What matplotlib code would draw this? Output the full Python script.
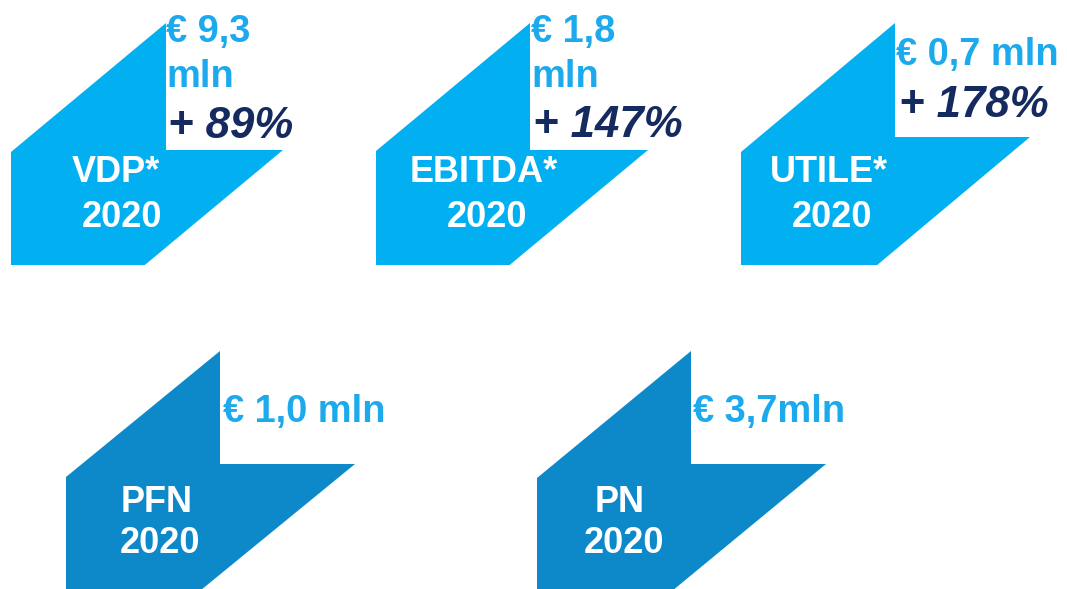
import matplotlib
matplotlib.use("Agg")
import matplotlib.pyplot as plt
from matplotlib.patches import Polygon

# ---- data ----
labels = ["VDP*", "EBITDA*", "UTILE*", "PFN", "PN"]
years = ["2020", "2020", "2020", "2020", "2020"]
value_lines = [["€ 9,3", "mln"], ["€ 1,8", "mln"], ["€ 0,7 mln"], ["€ 1,0 mln"], ["€ 3,7mln"]]
growth = ["+ 89%", "+ 147%", "+ 178%", "", ""]

# ---- layout (pixel coordinates, y downward) ----
# shape: left x, top-left-corner y, top point x, top y, notch y, right x, bottom y
shapes = [
    (11, 152, 166, 23, 150, 283, 265),
    (376, 151, 530, 23, 150, 648, 265),
    (741, 152, 895, 23, 137, 1030, 265),
    (66, 477, 220, 351, 464, 355, 620),
    (537, 478, 691, 351, 464, 826, 620),
]
shape_colors = ["#02B0F2", "#02B0F2", "#02B0F2", "#0D89CA", "#0D89CA"]
label_pos = [(116, 182, 122, 227), (484, 182, 487, 227), (829, 182, 832, 227),
             (157, 512, 160, 553), (620, 512, 624, 553)]
value_pos = [(166, [42, 87]), (531, [42, 87]), (896, [65]), (223, [422]), (693, [422])]
growth_pos = [(168, 138), (533, 137), (899, 117), (0, 0), (0, 0)]

W, H = 1067, 589
fig = plt.figure(figsize=(W / 100, H / 100), dpi=100)
ax = fig.add_axes([0, 0, 1, 1])
ax.set_xlim(0, W)
ax.set_ylim(H, 0)
ax.axis("off")

FONT = "Liberation Sans"
value_color = "#1CAAEC"
growth_color = "#152A5E"

for i, (xl, ytl, xt, yt, yn, xr, yb) in enumerate(shapes):
    # bottom-right point lies on slant from (xr, yn) parallel to top-left edge
    dx = (xt - xl) / (ytl - yt)
    xbr = xr - dx * (yb - yn)
    pts = [(xl, yb), (xl, ytl), (xt, yt), (xt, yn), (xr, yn), (xbr, yb)]
    ax.add_patch(Polygon(pts, closed=True, facecolor=shape_colors[i],
                         edgecolor="none", zorder=1))

    lx1, ly1, lx2, ly2 = label_pos[i]
    ax.text(lx1, ly1, labels[i], color="white", fontsize=26, fontweight="bold",
            family=FONT, ha="center", va="baseline", zorder=3)
    ax.text(lx2, ly2, years[i], color="white", fontsize=26, fontweight="bold",
            family=FONT, ha="center", va="baseline", zorder=3)

    vx, vys = value_pos[i]
    for line, vy in zip(value_lines[i], vys):
        ax.text(vx, vy, line, color=value_color, fontsize=27.4, fontweight="bold",
                family=FONT, ha="left", va="baseline", zorder=3)

    if growth[i]:
        gx, gy = growth_pos[i]
        ax.text(gx, gy, growth[i], color=growth_color, fontsize=31.5,
                fontweight="bold", fontstyle="italic", family=FONT,
                ha="left", va="baseline", zorder=3)

fig.savefig("out.png", dpi=100, facecolor="white")
